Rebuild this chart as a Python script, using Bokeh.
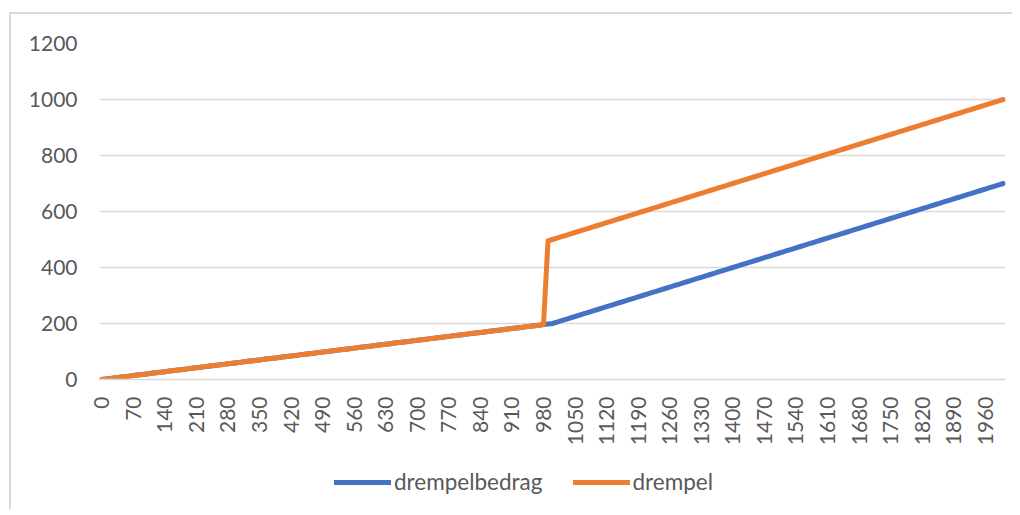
from math import pi
from bokeh.plotting import figure
from bokeh.layouts import column
from bokeh.models import FixedTicker, Legend, LegendItem, Range1d
from bokeh.embed import file_html
from bokeh.resources import INLINE

inkomen = [
    0, 10, 20, 30, 40, 50, 60, 70, 80, 90,
    100, 110, 120, 130, 140, 150, 160, 170, 180, 190,
    200, 210, 220, 230, 240, 250, 260, 270, 280, 290,
    300, 310, 320, 330, 340, 350, 360, 370, 380, 390,
    400, 410, 420, 430, 440, 450, 460, 470, 480, 490,
    500, 510, 520, 530, 540, 550, 560, 570, 580, 590,
    600, 610, 620, 630, 640, 650, 660, 670, 680, 690,
    700, 710, 720, 730, 740, 750, 760, 770, 780, 790,
    800, 810, 820, 830, 840, 850, 860, 870, 880, 890,
    900, 910, 920, 930, 940, 950, 960, 970, 980, 990,
    1000, 1010, 1020, 1030, 1040, 1050, 1060, 1070, 1080, 1090,
    1100, 1110, 1120, 1130, 1140, 1150, 1160, 1170, 1180, 1190,
    1200, 1210, 1220, 1230, 1240, 1250, 1260, 1270, 1280, 1290,
    1300, 1310, 1320, 1330, 1340, 1350, 1360, 1370, 1380, 1390,
    1400, 1410, 1420, 1430, 1440, 1450, 1460, 1470, 1480, 1490,
    1500, 1510, 1520, 1530, 1540, 1550, 1560, 1570, 1580, 1590,
    1600, 1610, 1620, 1630, 1640, 1650, 1660, 1670, 1680, 1690,
    1700, 1710, 1720, 1730, 1740, 1750, 1760, 1770, 1780, 1790,
    1800, 1810, 1820, 1830, 1840, 1850, 1860, 1870, 1880, 1890,
    1900, 1910, 1920, 1930, 1940, 1950, 1960, 1970, 1980, 1990,
    2000,
]

drempelbedrag = [
    0, 2, 4, 6, 8, 10, 12, 14, 16, 18,
    20, 22, 24, 26, 28, 30, 32, 34, 36, 38,
    40, 42, 44, 46, 48, 50, 52, 54, 56, 58,
    60, 62, 64, 66, 68, 70, 72, 74, 76, 78,
    80, 82, 84, 86, 88, 90, 92, 94, 96, 98,
    100, 102, 104, 106, 108, 110, 112, 114, 116, 118,
    120, 122, 124, 126, 128, 130, 132, 134, 136, 138,
    140, 142, 144, 146, 148, 150, 152, 154, 156, 158,
    160, 162, 164, 166, 168, 170, 172, 174, 176, 178,
    180, 182, 184, 186, 188, 190, 192, 194, 196, 198,
    200, 205, 210, 215, 220, 225, 230, 235, 240, 245,
    250, 255, 260, 265, 270, 275, 280, 285, 290, 295,
    300, 305, 310, 315, 320, 325, 330, 335, 340, 345,
    350, 355, 360, 365, 370, 375, 380, 385, 390, 395,
    400, 405, 410, 415, 420, 425, 430, 435, 440, 445,
    450, 455, 460, 465, 470, 475, 480, 485, 490, 495,
    500, 505, 510, 515, 520, 525, 530, 535, 540, 545,
    550, 555, 560, 565, 570, 575, 580, 585, 590, 595,
    600, 605, 610, 615, 620, 625, 630, 635, 640, 645,
    650, 655, 660, 665, 670, 675, 680, 685, 690, 695,
    700,
]

drempel = [
    0, 2, 4, 6, 8, 10, 12, 14, 16, 18,
    20, 22, 24, 26, 28, 30, 32, 34, 36, 38,
    40, 42, 44, 46, 48, 50, 52, 54, 56, 58,
    60, 62, 64, 66, 68, 70, 72, 74, 76, 78,
    80, 82, 84, 86, 88, 90, 92, 94, 96, 98,
    100, 102, 104, 106, 108, 110, 112, 114, 116, 118,
    120, 122, 124, 126, 128, 130, 132, 134, 136, 138,
    140, 142, 144, 146, 148, 150, 152, 154, 156, 158,
    160, 162, 164, 166, 168, 170, 172, 174, 176, 178,
    180, 182, 184, 186, 188, 190, 192, 194, 196, 495,
    500, 505, 510, 515, 520, 525, 530, 535, 540, 545,
    550, 555, 560, 565, 570, 575, 580, 585, 590, 595,
    600, 605, 610, 615, 620, 625, 630, 635, 640, 645,
    650, 655, 660, 665, 670, 675, 680, 685, 690, 695,
    700, 705, 710, 715, 720, 725, 730, 735, 740, 745,
    750, 755, 760, 765, 770, 775, 780, 785, 790, 795,
    800, 805, 810, 815, 820, 825, 830, 835, 840, 845,
    850, 855, 860, 865, 870, 875, 880, 885, 890, 895,
    900, 905, 910, 915, 920, 925, 930, 935, 940, 945,
    950, 955, 960, 965, 970, 975, 980, 985, 990, 995,
    1000,
]

series_names = ["drempelbedrag", "drempel"]

x_ticks = [0, 70, 140, 210, 280, 350, 420, 490, 560, 630, 700, 770, 840, 910,
           980, 1050, 1120, 1190, 1260, 1330, 1400, 1470, 1540, 1610, 1680,
           1750, 1820, 1890, 1960]
y_ticks = [0, 200, 400, 600, 800, 1000, 1200]

FONT = "Lato"
TXT = "#595959"
GRID = "#d9d9d9"
BLUE = "#4472C4"
ORANGE = "#ED7D31"

p = figure(frame_width=906, frame_height=336, output_backend="svg",
           toolbar_location=None,
           x_range=Range1d(-5, 2005), y_range=Range1d(0, 1200),
           min_border_left=99, min_border_right=7, min_border_top=43,
           min_border_bottom=78)
p.outline_line_color = None
p.border_fill_color = None
p.background_fill_color = None
p.styles = {
    "background-image": "linear-gradient(#d9d9d9, #d9d9d9), linear-gradient(#d9d9d9, #d9d9d9)",
    "background-position": "9px 12px, 9px 12px",
    "background-size": "2px 600px, 1100px 2px",
    "background-repeat": "no-repeat",
}

p.xgrid.grid_line_color = None
p.ygrid.grid_line_color = GRID
p.ygrid.grid_line_width = 1.5
p.ygrid.ticker = FixedTicker(ticks=y_ticks)

p.yaxis.ticker = FixedTicker(ticks=y_ticks)
p.yaxis.axis_line_color = None
p.yaxis.major_tick_line_color = None
p.yaxis.minor_tick_line_color = None
p.yaxis.major_label_standoff = 16
p.yaxis.major_label_text_font = FONT
p.yaxis.major_label_text_font_size = "21px"
p.yaxis.major_label_text_color = TXT

p.xaxis.ticker = FixedTicker(ticks=x_ticks)
p.xaxis.axis_line_color = GRID
p.xaxis.axis_line_width = 1.5
p.xaxis.major_tick_line_color = None
p.xaxis.minor_tick_line_color = None
p.xaxis.major_label_orientation = pi / 2
p.xaxis.major_label_standoff = 11
p.xaxis.major_label_text_font = FONT
p.xaxis.major_label_text_font_size = "21px"
p.xaxis.major_label_text_color = TXT

p.line(inkomen, drempelbedrag, line_color=BLUE, line_width=5,
       line_join="round", line_cap="round")
p.line(inkomen, drempel, line_color=ORANGE, line_width=5,
       line_join="round", line_cap="round")

# legend strip below the chart (its ranges keep the series out of view;
# only the legend entries show)
leg = figure(width=1012, height=52, output_backend="svg", toolbar_location=None,
             x_axis_type=None, y_axis_type=None, min_border=0,
             x_range=Range1d(-3000, -2500), y_range=Range1d(-3000, -2500))
leg.outline_line_color = None
leg.border_fill_color = None
leg.background_fill_color = None
leg.xgrid.visible = False
leg.ygrid.visible = False
leg.styles = {
    "background-image": "linear-gradient(#d9d9d9, #d9d9d9)",
    "background-position": "9px 0px",
    "background-size": "2px 600px",
    "background-repeat": "no-repeat",
}
lb = leg.line(inkomen, drempelbedrag, line_color=BLUE, line_width=5,
              line_cap="round")
lo = leg.line(inkomen, drempel, line_color=ORANGE, line_width=5,
              line_cap="round")

legend = Legend(items=[LegendItem(label=series_names[0], renderers=[lb]),
                       LegendItem(label=series_names[1], renderers=[lo])],
                orientation="horizontal", location=(235, 14),
                glyph_width=57, glyph_height=26, label_standoff=3, spacing=30,
                padding=0, margin=0, border_line_color=None,
                background_fill_alpha=0,
                label_text_font=FONT, label_text_font_size="22.5px",
                label_text_color=TXT)
leg.add_layout(legend, "center")

layout = column(p, leg, spacing=0)
open("out.html", "w").write(file_html(layout, INLINE))
